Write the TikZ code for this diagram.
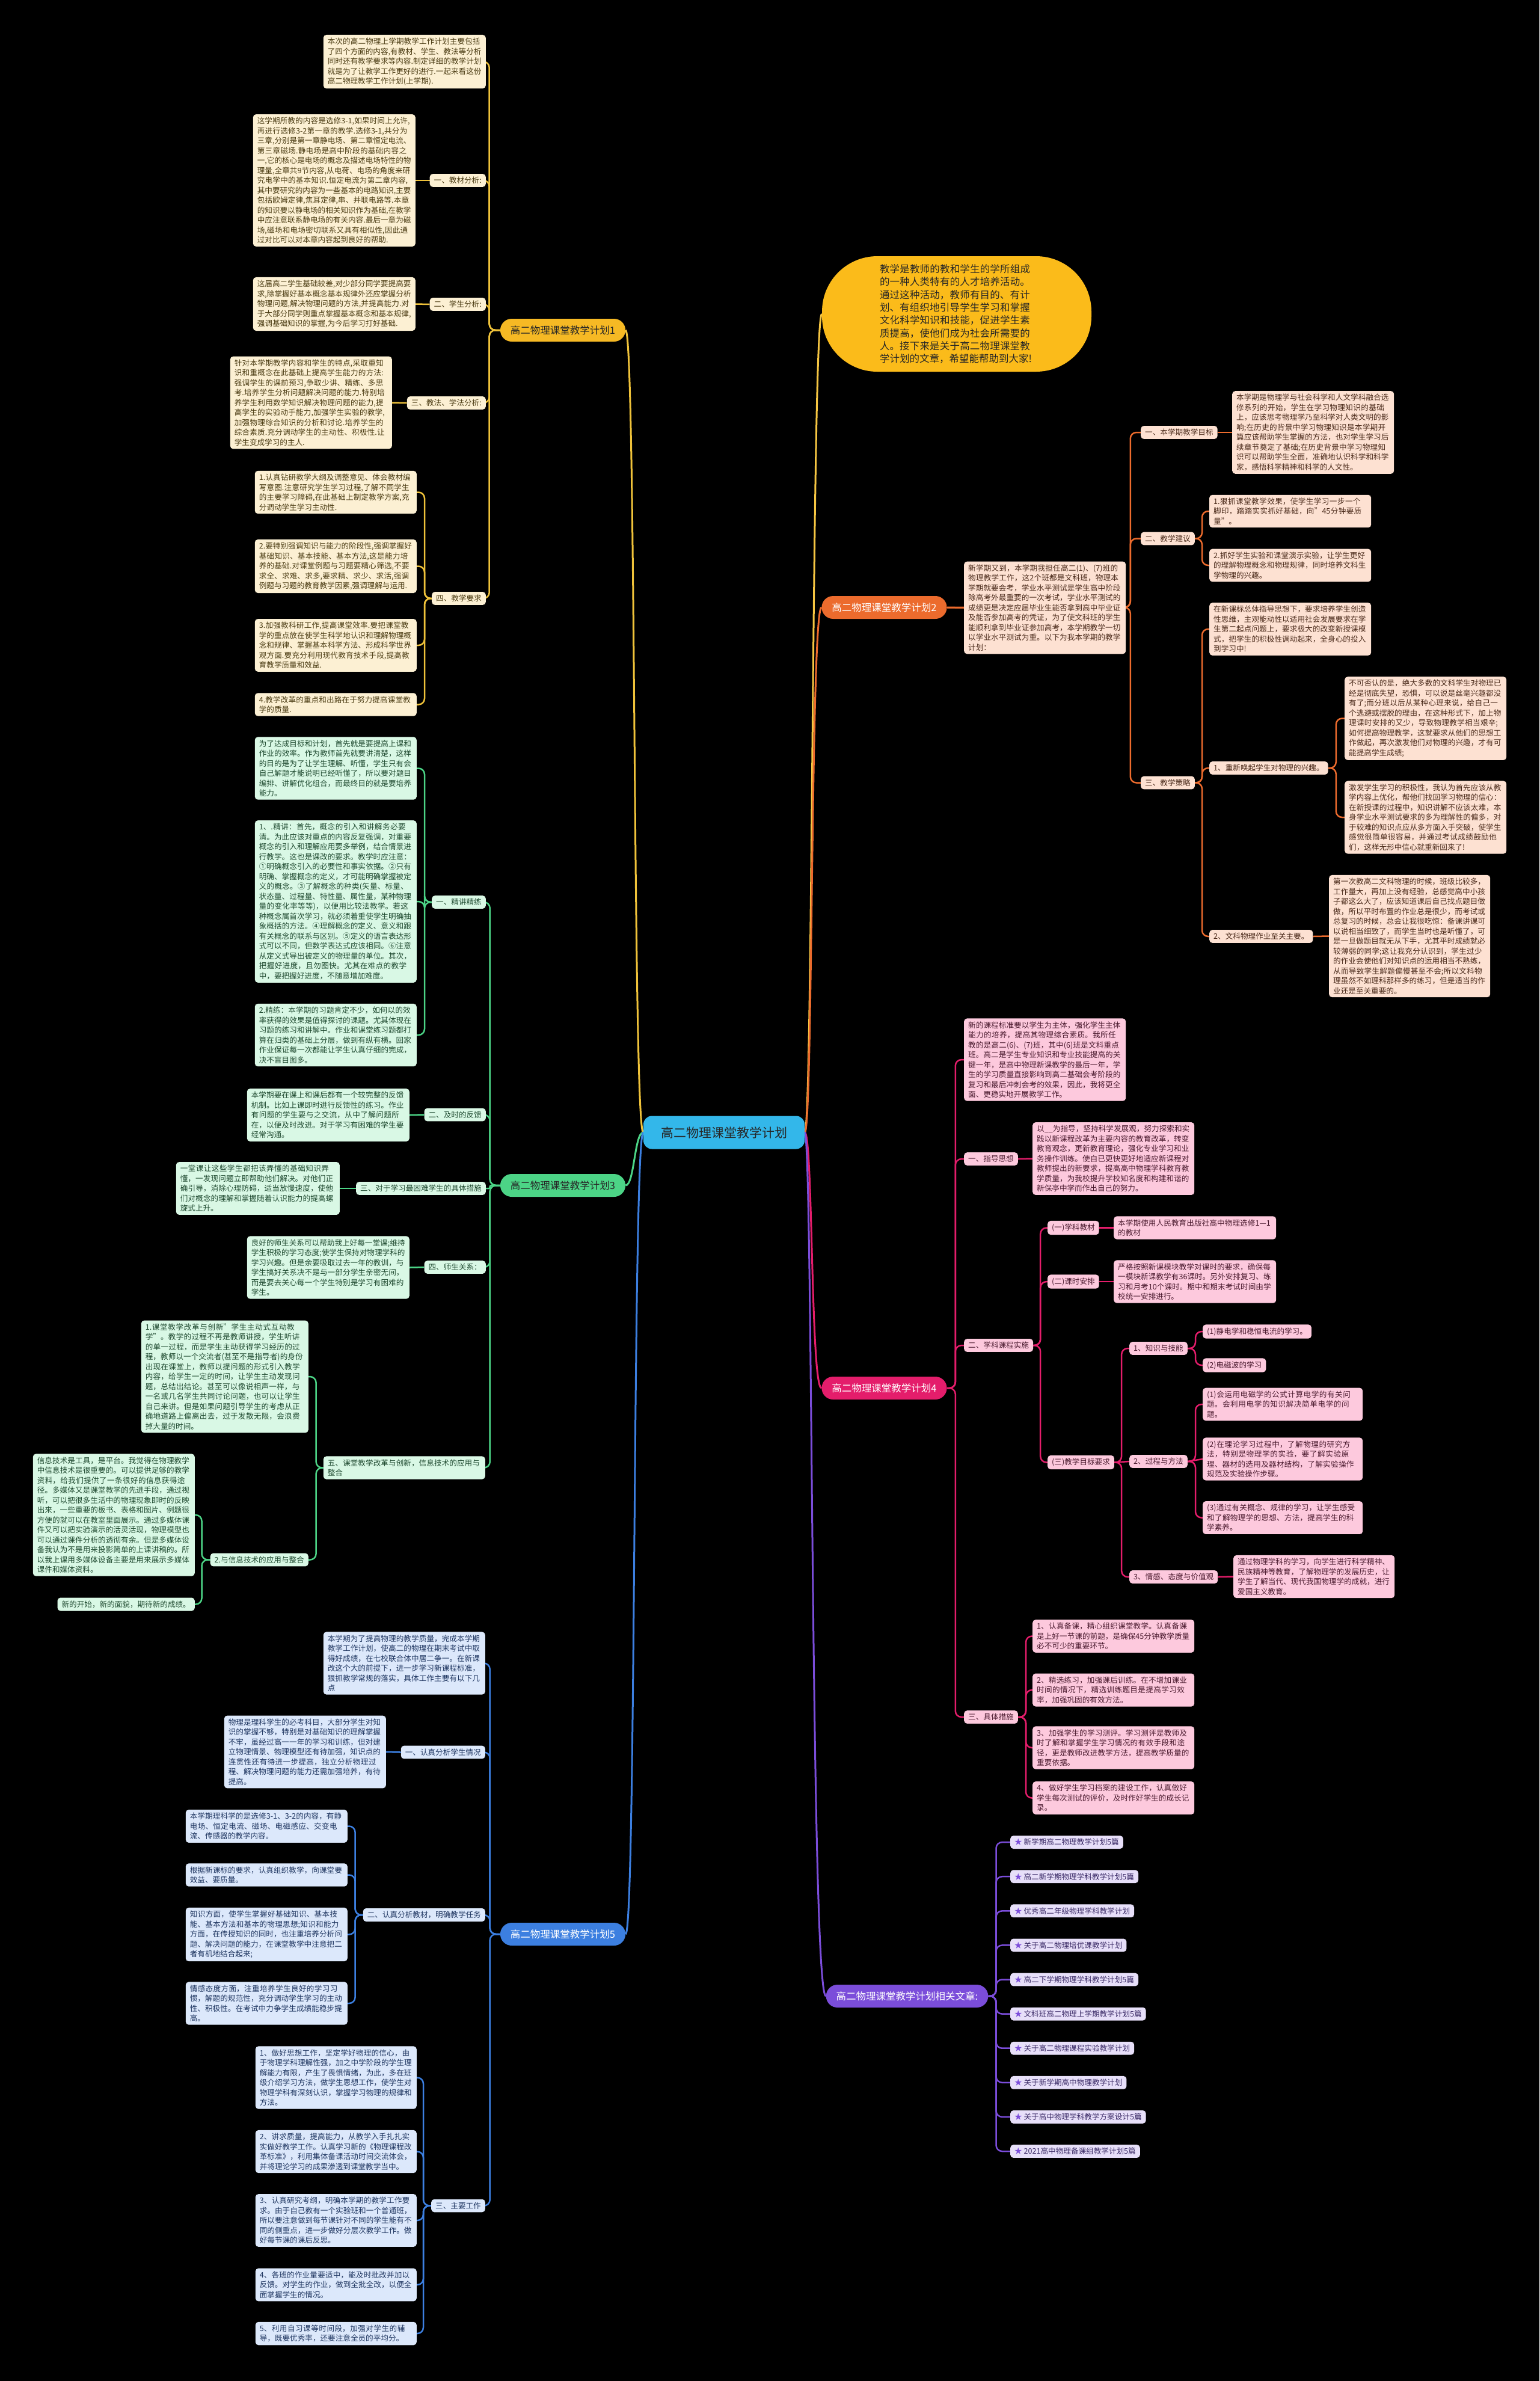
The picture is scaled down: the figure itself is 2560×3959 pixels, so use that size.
\documentclass[tikz,border=0pt]{standalone}
\usepackage{fontspec}
\setmainfont{Noto Sans CJK SC}
\XeTeXlinebreaklocale "zh"
\XeTeXlinebreakskip = 0pt plus 1pt
\pgfdeclarelayer{bg}
\pgfdeclarelayer{wires}
\pgfsetlayers{bg,wires,main}

\definecolor{hubfill}{HTML}{33B7EA}
\definecolor{bubfill}{HTML}{FBBB1A}
\definecolor{bubline}{HTML}{F5C542}
\definecolor{c1line}{HTML}{EFC23A}
\definecolor{c1fill}{HTML}{FCF0D3}
\definecolor{c1text}{HTML}{4A3B12}
\definecolor{c1head}{HTML}{F6B924}
\definecolor{c2line}{HTML}{EC6B2D}
\definecolor{c2fill}{HTML}{FDE1D2}
\definecolor{c2text}{HTML}{4A2A1A}
\definecolor{c3line}{HTML}{4CD486}
\definecolor{c3fill}{HTML}{D9F8E5}
\definecolor{c3text}{HTML}{1F4A30}
\definecolor{c4line}{HTML}{E41D6B}
\definecolor{c4fill}{HTML}{FDC9DD}
\definecolor{c4text}{HTML}{4A1A2E}
\definecolor{c5line}{HTML}{3C7FE0}
\definecolor{c5fill}{HTML}{DCE8FB}
\definecolor{c5text}{HTML}{1E3560}
\definecolor{c6line}{HTML}{7B4DDA}
\definecolor{c6fill}{HTML}{E7DFF9}
\definecolor{c6text}{HTML}{3A2A66}

\begin{document}
\begin{tikzpicture}[
    x=1pt, y=-1pt,
    cbox/.style={rectangle, rounded corners=5pt, align=left, inner xsep=7pt, inner ysep=5pt, font=\fontsize{12.6}{16.5}\selectfont},
    onebox/.style={cbox, fill=c1fill, text=c1text},
    twobox/.style={cbox, fill=c2fill, text=c2text},
    threebox/.style={cbox, fill=c3fill, text=c3text},
    fourbox/.style={cbox, fill=c4fill, text=c4text},
    fivebox/.style={cbox, fill=c5fill, text=c5text},
    relbox/.style={cbox, fill=c6fill, text=c6text, anchor=west},
    branch/.style={rectangle, rounded corners=19pt, minimum height=38pt, minimum width=207pt, inner xsep=17pt, font=\fontsize{16.5}{20}\selectfont},
    hub/.style={rectangle, rounded corners=14pt, fill=hubfill, text=black!85, minimum height=55pt, inner xsep=29pt, font=\fontsize{21}{25}\selectfont},
    bubble/.style={rectangle, rounded corners=92pt, fill=bubfill, text=black!85, minimum height=192pt, inner xsep=96pt, inner ysep=8pt, text width=256pt, align=left, font=\fontsize{16.5}{21.3}\selectfont},
    link1/.style={draw=c1line, line width=2.5pt, rounded corners=10pt},
    link2/.style={draw=c2line, line width=2.5pt, rounded corners=10pt},
    link3/.style={draw=c3line, line width=2.5pt, rounded corners=10pt},
    link4/.style={draw=c4line, line width=2.5pt, rounded corners=10pt},
    link5/.style={draw=c5line, line width=2.5pt, rounded corners=10pt},
    link6/.style={draw=c6line, line width=2.5pt, rounded corners=10pt}
]
\useasboundingbox (0,0) rectangle (2560,3959);
\begin{pgfonlayer}{bg}
\fill[black] (0,0) rectangle (2560,3959);
\end{pgfonlayer}

% centre
\node[hub] (hub) at (1204,1883) {高二物理课堂教学计划};
\node[bubble] (bubble) at (1591,522) {教学是教师的教和学生的学所组成的一种人类特有的人才培养活动。通过这种活动，教师有目的、有计划、有组织地引导学生学习和掌握文化科学知识和技能，促进学生素质提高，使他们成为社会所需要的人。接下来是关于高二物理课堂教学计划的文章，希望能帮助到大家!};

% Plan 1
\node[branch, fill=c1head, text=black!85] (plan1) at (936,549) {高二物理课堂教学计划1};
\node[onebox, anchor=east, text width=256pt] (p1intro) at (808,102.5) {本次的高二物理上学期教学工作计划主要包括了四个方面的内容,有教材、学生、教法等分析同时还有教学要求等内容.制定详细的教学计划就是为了让教学工作更好的进行.一起来看这份高二物理教学工作计划(上学期).};
\node[onebox, anchor=east] (p1mat) at (808,300) {一、教材分析:};
\node[onebox, anchor=east, text width=256pt] (p1matt) at (691,300) {这学期所教的内容是选修3-1,如果时间上允许,再进行选修3-2第一章的教学.选修3-1,共分为三章,分别是第一章静电场、第二章恒定电流、第三章磁场.静电场是高中阶段的基础内容之一,它的核心是电场的概念及描述电场特性的物理量,全章共9节内容,从电荷、电场的角度来研究电学中的基本知识.恒定电流为第二章内容,其中要研究的内容为一些基本的电路知识,主要包括欧姆定律,焦耳定律,串、并联电路等.本章的知识要以静电场的相关知识作为基础,在教学中应注意联系静电场的有关内容.最后一章为磁场,磁场和电场密切联系又具有相似性,因此通过对比可以对本章内容起到良好的帮助.};
\node[onebox, anchor=east] (p1stu) at (808,506) {二、学生分析:};
\node[onebox, anchor=east, text width=256pt] (p1stut) at (691,505.5) {这届高二学生基础较差,对少部分同学要提高要求,除掌握好基本概念基本规律外还应掌握分析物理问题,解决物理问题的方法,并提高能力.对于大部分同学则重点掌握基本概念和基本规律,强调基础知识的掌握,为今后学习打好基础.};
\node[onebox, anchor=east] (p1meth) at (808,670) {三、教法、学法分析:};
\node[onebox, anchor=east, text width=255pt] (p1metht) at (652,669.5) {针对本学期教学内容和学生的特点,采取重知识和重概念在此基础上提高学生能力的方法:强调学生的课前预习,争取少讲、精练、多思考.培养学生分析问题解决问题的能力.特别培养学生利用数学知识解决物理问题的能力,提高学生的实验动手能力,加强学生实验的教学,加强物理综合知识的分析和讨论.培养学生的综合素质.充分调动学生的主动性、积极性.让学生变成学习的主人.};
\node[onebox, anchor=east] (p1req) at (808,995) {四、教学要求};
\node[onebox, anchor=east, text width=255pt] (p1req1) at (693,818.5) {1.认真钻研教学大纲及调整意见、体会教材编写意图.注意研究学生学习过程,了解不同学生的主要学习障碍,在此基础上制定教学方案,充分调动学生学习主动性.};
\node[onebox, anchor=east, text width=255pt] (p1req2) at (693,941.5) {2.要特别强调知识与能力的阶段性,强调掌握好基础知识、基本技能、基本方法,这是能力培养的基础.对课堂例题与习题要精心筛选,不要求全、求难、求多,要求精、求少、求活,强调例题与习题的教育教学因素,强调理解与运用.};
\node[onebox, anchor=east, text width=255pt] (p1req3) at (693,1073) {3.加强教科研工作,提高课堂效率.要把课堂教学的重点放在使学生科学地认识和理解物理概念和规律、掌握基本科学方法、形成科学世界观方面.要充分利用现代教育技术手段,提高教育教学质量和效益.};
\node[onebox, anchor=east, text width=255pt] (p1req4) at (693,1171.5) {4.教学改革的重点和出路在于努力提高课堂教学的质量.};

% Plan 3
\node[branch, fill=c3line, text=black!85] (plan3) at (936,1971) {高二物理课堂教学计划3};
\node[threebox, anchor=east] (p3tut) at (808,1500) {一、精讲精练};
\node[threebox, anchor=east, text width=255pt] (p3tut1) at (693,1277.5) {为了达成目标和计划，首先就是要提高上课和作业的效率。作为教师首先就要讲清楚，这样的目的是为了让学生理解、听懂，学生只有会自己解题才能说明已经听懂了，所以要对题目编排、讲解优化组合，而最终目的就是要培养能力。};
\node[threebox, anchor=east, text width=255pt] (p3tut2) at (693,1499) {1、.精讲：首先，概念的引入和讲解务必要清。为此应该对重点的内容反复强调，对重要概念的引入和理解应用要多举例，结合情景进行教学。这也是课改的要求。教学时应注意：①明确概念引入的必要性和事实依据。②只有明确、掌握概念的定义，才可能明确掌握被定义的概念。③了解概念的种类(矢量、标量、状态量、过程量、特性量、属性量，某种物理量的变化率等等)，以便用比较法教学。若这种概念属首次学习，就必须着重使学生明确抽象概括的方法。④理解概念的定义、意义和跟有关概念的联系与区别。⑤定义的语言表达形式可以不同，但数学表达式应该相同。⑥注意从定义式导出被定义的物理量的单位。其次，把握好进度，且勿图快。尤其在难点的教学中，要把握好进度，不随意增加难度。};
\node[threebox, anchor=east, text width=255pt] (p3tut3) at (693,1721) {2.精练：本学期的习题肯定不少，如何以的效率获得的效果是值得探讨的课题。尤其体现在习题的练习和讲解中。作业和课堂练习题都打算在归类的基础上分层，做到有纵有横。回家作业保证每一次都能让学生认真仔细的完成，决不盲目图多。};
\node[threebox, anchor=east] (p3fb) at (808,1853.5) {二、及时的反馈};
\node[threebox, anchor=east, text width=256pt] (p3fbt) at (681,1854) {本学期要在课上和课后都有一个较完整的反馈机制。比如上课即时进行反馈性的练习。作业有问题的学生要与之交流，从中了解问题所在，以便及时改进。对于学习有困难的学生要经常沟通。};
\node[threebox, anchor=east] (p3weak) at (808,1976) {三、对于学习最困难学生的具体措施};
\node[threebox, anchor=east, text width=258pt] (p3weakt) at (565,1976) {一堂课让这些学生都把该弄懂的基础知识弄懂，一发现问题立即帮助他们解决。对他们正确引导，消除心理防碍，适当放慢速度，使他们对概念的理解和掌握随着认识能力的提高螺旋式上升。};
\node[threebox, anchor=east] (p3rel) at (808,2107) {四、师生关系：};
\node[threebox, anchor=east, text width=256pt] (p3relt) at (681,2107.5) {良好的师生关系可以帮助我上好每一堂课;维持学生积极的学习态度;使学生保持对物理学科的学习兴趣。但是余要吸取过去一年的教训，与学生搞好关系决不是与一部分学生亲密无间，而是要去关心每一个学生特别是学习有困难的学生。};
\node[threebox, anchor=east, text width=255pt] (p3new) at (807,2440.5) {五、课堂教学改革与创新，信息技术的应用与整合};
\node[threebox, anchor=east, text width=264pt] (p3new1) at (513,2289) {1.课堂教学改革与创新"学生主动式互动教学"。教学的过程不再是教师讲授，学生听讲的单一过程，而是学生主动获得学习经历的过程，教师以一个交流者(甚至不是指导者)的身份出现在课堂上，教师以提问题的形式引入教学内容，给学生一定的时间，让学生主动发现问题，总结出结论。甚至可以像说相声一样，与一名或几名学生共同讨论问题，也可以让学生自己来讲。但是如果问题引导学生的考虑从正确地道路上偏离出去，过于发散无限，会浪费掉大量的时间。};
\node[threebox, anchor=east] (p3new2) at (513,2593.5) {2.与信息技术的应用与整合};
\node[threebox, anchor=east, text width=255pt] (p3new2a) at (324,2519) {信息技术是工具，是平台。我觉得在物理教学中信息技术是很重要的。可以提供足够的教学资料，给我们提供了一条很好的信息获得途径。多媒体又是课堂教学的先进手段，通过视听，可以把很多生活中的物理现象即时的反映出来，一些重要的板书、表格和图片、例题很方便的就可以在教室里面展示。通过多媒体课件又可以把实验演示的活灵活现，物理模型也可以通过课件分析的透彻有余。但是多媒体设备我认为不是用来投影简单的上课讲稿的。所以我上课用多媒体设备主要是用来展示多媒体课件和媒体资料。};
\node[threebox, anchor=east] (p3new2b) at (324,2667.5) {新的开始，新的面貌，期待新的成绩。};

% Plan 5
\node[branch, fill=c5line, text=white] (plan5) at (936,3216) {高二物理课堂教学计划5};
\node[fivebox, anchor=east, text width=255pt] (p5intro) at (807,2765.5) {本学期为了提高物理的教学质量，完成本学期教学工作计划，使高二的物理在期末考试中取得好成绩，在七校联合体中居二争一。在新课改这个大的前提下，进一步学习新课程标准，狠抓教学常规的落实，具体工作主要有以下几点};
\node[fivebox, anchor=east] (p5stu) at (807,2913.5) {一、认真分析学生情况};
\node[fivebox, anchor=east, text width=255pt] (p5stut) at (642,2913) {物理是理科学生的必考科目，大部分学生对知识的掌握不够，特别是对基础知识的理解掌握不牢，虽经过高一一年的学习和训练，但对建立物理情景、物理模型还有待加强，知识点的连贯性还有待进一步提高，独立分析物理过程、解决物理问题的能力还需加强培养，有待提高。};
\node[fivebox, anchor=east] (p5mat) at (807,3184) {二、认真分析教材，明确教学任务};
\node[fivebox, anchor=east, text width=255pt] (p5mat1) at (578,3036.5) {本学期理科学的是选修3-1、3-2的内容，有静电场、恒定电流、磁场、电磁感应、交变电流、传感器的教学内容。};
\node[fivebox, anchor=east, text width=255pt] (p5mat2) at (578,3117.5) {根据新课标的要求，认真组织教学，向课堂要效益、要质量。};
\node[fivebox, anchor=east, text width=255pt] (p5mat3) at (578,3216.5) {知识方面，使学生掌握好基础知识、基本技能、基本方法和基本的物理思想;知识和能力方面，在传授知识的同时，也注重培养分析问题、解决问题的能力，在课堂教学中注意把二者有机地结合起来;};
\node[fivebox, anchor=east, text width=255pt] (p5mat4) at (578,3331) {情感态度方面，注重培养学生良好的学习习惯，解题的规范性，充分调动学生学习的主动性、积极性。在考试中力争学生成绩能稳步提高。};
\node[fivebox, anchor=east] (p5work) at (807,3667.5) {三、主要工作};
\node[fivebox, anchor=east, text width=254pt] (p5work1) at (693,3454.5) {1、做好思想工作，坚定学好物理的信心，由于物理学科理解性强，加之中学阶段的学生理解能力有限，产生了畏惧情绪，为此，多在班级介绍学习方法，做学生思想工作，使学生对物理学科有深刻认识，掌握学习物理的规律和方法。};
\node[fivebox, anchor=east, text width=254pt] (p5work2) at (693,3577.5) {2、讲求质量，提高能力，从教学入手扎扎实实做好教学工作。认真学习新的《物理课程改革标准》，利用集体备课活动时间交流体会，并将理论学习的成果渗透到课堂教学当中。};
\node[fivebox, anchor=east, text width=254pt] (p5work3) at (693,3692) {3、认真研究考纲，明确本学期的教学工作要求。由于自己教有一个实验班和一个普通班，所以要注意做到每节课针对不同的学生能有不同的侧重点，进一步做好分层次教学工作。做好每节课的课后反思。};
\node[fivebox, anchor=east, text width=254pt] (p5work4) at (693,3799) {4、各班的作业量要适中，能及时批改并加以反馈。对学生的作业，做到全批全改，以便全面掌握学生的情况。};
\node[fivebox, anchor=east, text width=254pt] (p5work5) at (693,3880) {5、利用自习课等时间段，加强对学生的辅导，既要优秀率，还要注意全员的平均分。};

% Plan 2
\node[branch, fill=c2line, text=white] (plan2) at (1470.5,1010) {高二物理课堂教学计划2};
\node[twobox, anchor=west, text width=255pt] (p2intro) at (1603,1010.5) {新学期又到，本学期我担任高二(1)、(7)班的物理教学工作，这2个班都是文科班，物理本学期就要会考，学业水平测试是学生高中阶段除高考外最重要的一次考试，学业水平测试的成绩更是决定应届毕业生能否拿到高中毕业证及能否参加高考的凭证，为了使文科班的学生能顺利拿到毕业证参加高考，本学期教学一切以学业水平测试为重。以下为我本学期的教学计划：};
\node[twobox, anchor=west] (p2aim) at (1897,719) {一、本学期教学目标};
\node[twobox, anchor=west, text width=255pt] (p2aimt) at (2049,719) {本学期是物理学与社会科学和人文学科融合选修系列的开始，学生在学习物理知识的基础上，应该思考物理学乃至科学对人类文明的影响;在历史的背景中学习物理知识是本学期开篇应该帮助学生掌握的方法，也对学生学习后续章节奠定了基础;在历史背景中学习物理知识可以帮助学生全面，准确地认识科学和科学家，感悟科学精神和科学的人文性。};
\node[twobox, anchor=west] (p2adv) at (1897,895.5) {二、教学建议};
\node[twobox, anchor=west, text width=255pt] (p2adv1) at (2011,850) {1.狠抓课堂教学效果，使学生学习一步一个脚印，踏踏实实抓好基础，向"45分钟要质量"。};
\node[twobox, anchor=west, text width=255pt] (p2adv2) at (2011,940) {2.抓好学生实验和课堂演示实验，让学生更好的理解物理概念和物理规律，同时培养文科生学物理的兴趣。};
\node[twobox, anchor=west] (p2str) at (1897,1301.5) {三、教学策略};
\node[twobox, anchor=west, text width=255pt] (p2str0) at (2011,1046) {在新课标总体指导思想下，要求培养学生创造性思维，主观能动性以适用社会发展要求在学生第二起点问题上，要求极大的改变新授课模式，把学生的积极性调动起来，全身心的投入到学习中!};
\node[twobox, anchor=west] (p2str1) at (2011,1277) {1、重新唤起学生对物理的兴趣。};
\node[twobox, anchor=west, text width=255pt] (p2str1a) at (2236,1194.5) {不可否认的是，绝大多数的文科学生对物理已经是彻底失望，恐惧，可以说是丝毫兴趣都没有了;而分班以后从某种心理来说，给自己一个逃避或摆脱的理由，在这种形式下，加上物理课时安排的又少，导致物理教学相当艰辛;如何提高物理教学，这就要求从他们的思想工作做起，再次激发他们对物理的兴趣，才有可能提高学生成绩;};
\node[twobox, anchor=west, text width=255pt] (p2str1b) at (2236,1359) {激发学生学习的积极性，我认为首先应该从教学内容上优化，帮他们找回学习物理的信心：在新授课的过程中，知识讲解不应该太难，本身学业水平测试要求的多为理解性的偏多，对于较难的知识点应从多方面入手突破，使学生感觉很简单很容易，并通过考试成绩鼓励他们，这样无形中信心就重新回来了!};
\node[twobox, anchor=west] (p2str2) at (2011,1557) {2、文科物理作业至关主要。};
\node[twobox, anchor=west, text width=254pt] (p2str2t) at (2210,1556.5) {第一次教高二文科物理的时候，班级比较多，工作量大，再加上没有经验，总感觉高中小孩子都这么大了，应该知道课后自己找点题目做做，所以平时布置的作业总是很少，而考试或总复习的时候，总会让我很吃惊：备课讲课可以说相当细致了，而学生当时也是听懂了，可是一旦做题目就无从下手，尤其平时成绩就必较薄弱的同学;这让我充分认识到，学生过少的作业会使他们对知识点的运用相当不熟练，从而导致学生解题偏慢甚至不会;所以文科物理虽然不如理科那样多的练习，但是适当的作业还是至关重要的。};

% Plan 4
\node[branch, fill=c4line, text=white] (plan4) at (1470.5,2308) {高二物理课堂教学计划4};
\node[fourbox, anchor=west, text width=255pt] (p4intro) at (1603,1762) {新的课程标准要以学生为主体，强化学生主体能力的培养，提高其物理综合素质。我所任教的是高二(6)、(7)班，其中(6)班是文科重点班。高二是学生专业知识和专业技能提高的关键一年，是高中物理新课教学的最后一年，学生的学习质量直接影响到高二基础会考阶段的复习和最后冲刺会考的效果，因此，我将更全面、更稳实地开展教学工作。};
\node[fourbox, anchor=west] (p4guide) at (1603,1927) {一、指导思想};
\node[fourbox, anchor=west, text width=255pt] (p4guidet) at (1717,1926.5) {以\_\_为指导，坚持科学发展观，努力探索和实践以新课程改革为主要内容的教育改革，转变教育观念，更新教育理论，强化专业学习和业务操作训练。使自已更快更好地适应新课程对教师提出的新要求，提高高中物理学科教育教学质量，为我校提升学校知名度和构建和谐的新保亭中学而作出自己的努力。};
\node[fourbox, anchor=west] (p4impl) at (1603,2237) {二、学科课程实施};
\node[fourbox, anchor=west] (p4book) at (1742,2041.5) {(一)学科教材};
\node[fourbox, anchor=west, text width=256pt] (p4bookt) at (1852,2041.5) {本学期使用人民教育出版社高中物理选修1—1的教材};
\node[fourbox, anchor=west] (p4hour) at (1742,2131) {(二)课时安排};
\node[fourbox, anchor=west, text width=256pt] (p4hourt) at (1852,2131) {严格按照新课模块教学对课时的要求，确保每一模块新课教学有36课时。另外安排复习、练习和月考10个课时。期中和期末考试时间由学校统一安排进行。};
\node[fourbox, anchor=west] (p4goal) at (1742,2431.5) {(三)教学目标要求};
\node[fourbox, anchor=west] (p4k1) at (1878,2242) {1、知识与技能};
\node[fourbox, anchor=west] (p4k1a) at (2000,2214) {(1)静电学和稳恒电流的学习。};
\node[fourbox, anchor=west] (p4k1b) at (2000,2270) {(2)电磁波的学习};
\node[fourbox, anchor=west] (p4k2) at (1878,2430) {2、过程与方法};
\node[fourbox, anchor=west, text width=252pt] (p4k2a) at (2000,2335) {(1)会运用电磁学的公式计算电学的有关问题。会利用电学的知识解决简单电学的问题。};
\node[fourbox, anchor=west, text width=252pt] (p4k2b) at (2000,2426) {(2)在理论学习过程中，了解物理的研究方法，特别是物理学的实验，要了解实验原理、器材的选用及器材结构，了解实验操作规范及实验操作步骤。};
\node[fourbox, anchor=west, text width=252pt] (p4k2c) at (2000,2523.5) {(3)通过有关概念、规律的学习，让学生感受和了解物理学的思想、方法，提高学生的科学素养。};
\node[fourbox, anchor=west] (p4k3) at (1878,2622) {3、情感、态度与价值观};
\node[fourbox, anchor=west, text width=254pt] (p4k3t) at (2051,2621.5) {通过物理学科的学习，向学生进行科学精神、民族精神等教育，了解物理学的发展历史，让学生了解当代、现代我国物理学的成就，进行爱国主义教育。};
\node[fourbox, anchor=west] (p4meas) at (1603,2855) {三、具体措施};
\node[fourbox, anchor=west, text width=255pt] (p4meas1) at (1717,2720.5) {1、认真备课，精心组织课堂教学。认真备课是上好一节课的前题，是确保45分钟教学质量必不可少的重要环节。};
\node[fourbox, anchor=west, text width=255pt] (p4meas2) at (1717,2810) {2、精选练习，加强课后训练。在不增加课业时间的情况下，精选训练题目是提高学习效率，加强巩固的有效方法。};
\node[fourbox, anchor=west, text width=255pt] (p4meas3) at (1717,2906) {3、加强学生的学习测评。学习测评是教师及时了解和掌握学生学习情况的有效手段和途径，更是教师改进教学方法，提高教学质量的重要依据。};
\node[fourbox, anchor=west, text width=255pt] (p4meas4) at (1717,2989.5) {4、做好学生学习档案的建设工作，认真做好学生每次测试的评价，及时作好学生的成长记录。};

% related articles
\node[branch, fill=c6line, text=white, minimum width=0pt] (rel) at (1508.5,3319) {高二物理课堂教学计划相关文章:};
\foreach \t [count=\i] in {新学期高二物理教学计划5篇, 高二新学期物理学科教学计划5篇, 优秀高二年级物理学科教学计划, 关于高二物理培优课教学计划, 高二下学期物理学科教学计划5篇, 文科班高二物理上学期教学计划5篇, 关于高二物理课程实验教学计划, 关于新学期高中物理教学计划, 关于高中物理学科教学方案设计5篇, 2021高中物理备课组教学计划5篇}
  \node[relbox] (rel\i) at (1680,3006+57.1*\i) {{\color{c6line}★} \t};

\begin{pgfonlayer}{wires}
% centre links
\draw[bubline, line width=3pt] (hub.east) .. controls (1352,1883) and (1350,522) .. (bubble.west);
\draw[c1line, line width=3pt] (hub.west) .. controls (1052,1883) and (1058,549) .. (plan1.east);
\draw[c3line, line width=3pt] (hub.west) .. controls (1055,1883) and (1055,1971) .. (plan3.east);
\draw[c5line, line width=3pt] (hub.west) .. controls (1052,1883) and (1058,3216) .. (plan5.east);
\draw[c2line, line width=3pt] (hub.east) .. controls (1352,1883) and (1348,1010) .. (plan2.west);
\draw[c4line, line width=3pt] (hub.east) .. controls (1352,1883) and (1348,2308) .. (plan4.west);
\draw[c6line, line width=3pt] (hub.east) .. controls (1352,1883) and (1348,3319) .. (rel.west);

% plan 1 links
\foreach \k in {p1intro,p1mat,p1stu,p1meth,p1req}
  \draw[link1] (plan1.west) -- ++(-18,0) |- (\k.east);
\draw[link1] (p1mat.west) -- (p1matt.east);
\draw[link1] (p1stu.west) -- (p1stut.east);
\draw[link1] (p1meth.west) -- (p1metht.east);
\foreach \k in {p1req1,p1req2,p1req3,p1req4}
  \draw[link1] (p1req.west) -- ++(-12,0) |- (\k.east);

% plan 3 links
\foreach \k in {p3tut,p3fb,p3rel,p3new}
  \draw[link3] (plan3.west) -- ++(-17,0) |- (\k.east);
\draw[link3, rounded corners=2pt] (plan3.west) -- ++(-17,0) |- (p3weak.east);
\foreach \k in {p3tut1,p3tut2,p3tut3}
  \draw[link3] (p3tut.west) -- ++(-12,0) |- (\k.east);
\draw[link3] (p3fb.west) -- (p3fbt.east);
\draw[link3] (p3weak.west) -- (p3weakt.east);
\draw[link3] (p3rel.west) -- (p3relt.east);
\foreach \k in {p3new1,p3new2}
  \draw[link3] (p3new.west) -- ++(-12,0) |- (\k.east);
\foreach \k in {p3new2a,p3new2b}
  \draw[link3] (p3new2.west) -- ++(-14,0) |- (\k.east);

% plan 5 links
\foreach \k in {p5intro,p5stu,p5mat,p5work}
  \draw[link5] (plan5.west) -- ++(-17,0) |- (\k.east);
\draw[link5] (p5stu.west) -- (p5stut.east);
\foreach \k in {p5mat1,p5mat2,p5mat3,p5mat4}
  \draw[link5] (p5mat.west) -- ++(-13,0) |- (\k.east);
\foreach \k in {p5work1,p5work2,p5work3,p5work4,p5work5}
  \draw[link5] (p5work.west) -- ++(-13,0) |- (\k.east);

% plan 2 links
\draw[link2] (plan2.east) -- (p2intro.west);
\foreach \k in {p2aim,p2adv,p2str}
  \draw[link2] (plan2.east) -- ++(305,0) |- (\k.west);
\draw[link2] (p2aim.east) -- (p2aimt.west);
\foreach \k in {p2adv1,p2adv2}
  \draw[link2] (p2adv.east) -- ++(12,0) |- (\k.west);
\foreach \k in {p2str0,p2str1,p2str2}
  \draw[link2] (p2str.east) -- ++(12,0) |- (\k.west);
\foreach \k in {p2str1a,p2str1b}
  \draw[link2] (p2str1.east) -- ++(13,0) |- (\k.west);
\draw[link2] (p2str2.east) -- (p2str2t.west);

% plan 4 links
\foreach \k in {p4intro,p4guide,p4impl,p4meas}
  \draw[link4] (plan4.east) -- ++(14,0) |- (\k.west);
\draw[link4] (p4guide.east) -- (p4guidet.west);
\foreach \k in {p4book,p4hour,p4goal}
  \draw[link4] (p4impl.east) -- ++(12,0) |- (\k.west);
\draw[link4] (p4book.east) -- (p4bookt.west);
\draw[link4] (p4hour.east) -- (p4hourt.west);
\foreach \k in {p4k1,p4k3}
  \draw[link4] (p4goal.east) -- ++(12,0) |- (\k.west);
\draw[link4] (p4goal.east) -- (p4k2.west);
\foreach \k in {p4k1a,p4k1b}
  \draw[link4] (p4k1.east) -- ++(13,0) |- (\k.west);
\foreach \k in {p4k2a,p4k2c}
  \draw[link4] (p4k2.east) -- ++(13,0) |- (\k.west);
\draw[link4] (p4k2.east) -- (p4k2b.west);
\draw[link4] (p4k3.east) -- (p4k3t.west);
\foreach \k in {p4meas1,p4meas2,p4meas3,p4meas4}
  \draw[link4] (p4meas.east) -- ++(13,0) |- (\k.west);

% related links
\foreach \i in {1,...,10}
  \draw[link6] (rel.east) -- ++(13,0) |- (rel\i.west);
\end{pgfonlayer}
\end{tikzpicture}
\end{document}
